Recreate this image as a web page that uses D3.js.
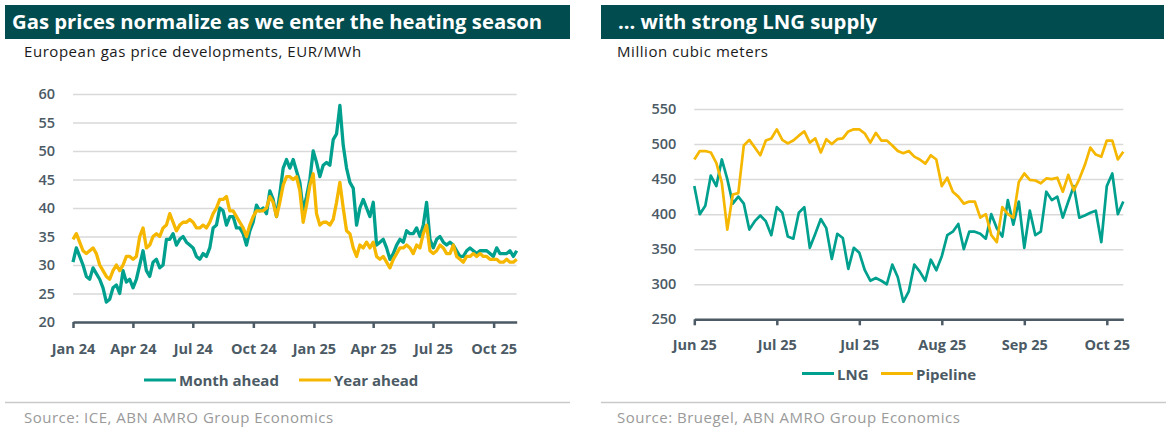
<!DOCTYPE html>
<html>
<head>
<meta charset="utf-8">
<script src="https://cdn.jsdelivr.net/npm/d3@7"></script>
<style>
  body { margin: 0; background: #fff; }
  svg text { font-family: "Open Sans", "DejaVu Sans", sans-serif; }
</style>
</head>
<body>
<svg id="chart" width="1173" height="447"></svg>
<script>
// ---- data: left panel (European gas prices, EUR/MWh), one reading every ~5 days from 1 Jan 2024
const priceStart = new Date(2024, 0, 1);
const priceStepDays = 5.068;
const monthAhead = [
  30.5, 33, 31.5, 30, 28, 27.5, 29.5, 28.5, 27.5, 26, 23.5, 24, 26, 26.5, 25, 29, 27, 27.5, 26, 27.5,
  30, 32.5, 29, 28, 30.5, 31, 29.5, 30, 34.5, 34.5, 35.5, 33.5, 34.5, 35, 34, 33.5, 33, 31.5, 31, 32,
  31.5, 33, 36.5, 37, 40, 39.5, 37, 38.5, 38.5, 36.5, 36.5, 35.5, 33.5, 36, 37.5, 40.5, 39.5, 40, 39, 43,
  41.5, 38.5, 42.5, 47, 48.5, 47, 48.5, 46.5, 44.5, 39.5, 42, 45, 50, 48, 45.5, 47.5, 48, 47.5, 52, 53,
  58, 51, 47, 44.5, 43.5, 37, 40, 41.5, 40, 38.5, 41, 33.5, 34, 34.5, 33, 31, 32, 33.5, 34.5, 34,
  36, 35.5, 35.5, 36.5, 35, 37, 41, 34.5, 33, 34.5, 35, 34, 33.5, 34, 33.5, 32.5, 31.5, 31.5, 32.5, 33,
  32.5, 32, 32.5, 32.5, 32.5, 32, 31.5, 33, 32, 32, 32, 32.5, 31.5, 32.5
];
const yearAhead = [
  34.5, 35.5, 34, 32.5, 32, 32.5, 33, 32, 30, 29, 28, 27.5, 29, 30, 29, 30, 31.5, 31.5, 31, 31.5,
  35, 36.5, 33, 33.5, 35, 35.5, 35, 36.5, 37, 39, 37.5, 36, 37, 37.5, 37.5, 38, 37.5, 36.5, 36.5, 37,
  36.5, 37.5, 39, 40, 41.5, 41.5, 42, 39.5, 39.5, 38.5, 37.5, 36.5, 35, 37, 38.5, 39.5, 39.5, 39.5, 40, 42,
  41, 38.5, 41, 44, 45.5, 45.5, 45, 45.5, 43, 37.5, 40.5, 44, 46, 39, 37, 37.5, 37.5, 37, 38, 41,
  44.5, 40, 36, 35.5, 33, 31.5, 33.5, 33, 34, 33, 34, 31.5, 31, 31.5, 30.5, 29.5, 31, 32, 33, 33,
  33.5, 33, 32, 33.5, 33, 35.5, 37, 32.5, 32, 32.5, 33.5, 33, 32, 32, 33.5, 31.5, 31, 30.5, 31.5, 31.5,
  32, 31.5, 32, 31.5, 31.5, 31, 31, 31, 30.5, 30.5, 31, 30.5, 30.5, 31
];
const priceTicks = ["2024-01-01", "2024-04-01", "2024-07-01", "2024-10-01", "2025-01-01", "2025-04-01", "2025-07-01", "2025-10-01"];
const priceTickLabels = ["Jan 24", "Apr 24", "Jul 24", "Oct 24", "Jan 25", "Apr 25", "Jul 25", "Oct 25"];
const priceYTicks = [20, 25, 30, 35, 40, 45, 50, 55, 60];

// ---- data: right panel (gas supply, million cubic meters), one reading every 2 days from 1 Jun 2025
const supplyStart = new Date(2025, 5, 1);
const supplyStepDays = 2;
const lng = [
  440, 400, 412, 455, 440, 478, 450, 415, 425, 415, 378, 390, 398, 390, 370, 410, 402, 368, 365, 402,
  410, 352, 372, 393, 380, 336, 372, 366, 322, 352, 345, 320, 305, 309, 305, 300, 328, 310, 275, 290,
  328, 318, 305, 335, 320, 340, 370, 375, 386, 350, 375, 375, 372, 365, 400, 380, 368, 420, 385, 418,
  352, 405, 370, 375, 432, 420, 425, 395, 418, 440, 395, 398, 402, 405, 360, 440, 458, 400, 418
];
const pipeline = [
  478, 490, 490, 488, 473, 445, 378, 428, 430, 498, 506, 495, 484, 505, 508, 521, 506, 501, 505, 512,
  518, 502, 508, 488, 507, 500, 507, 508, 518, 521, 521, 515, 502, 516, 505, 505, 498, 490, 487, 490,
  482, 478, 472, 484, 478, 440, 452, 432, 425, 415, 418, 418, 395, 400, 370, 360, 410, 400, 395, 446,
  458, 449, 448, 444, 451, 450, 452, 432, 456, 434, 450, 470, 495, 485, 482, 505, 505, 478, 489
];
const supplyTicks = ["2025-06-01", "2025-07-01", "2025-07-31", "2025-08-30", "2025-09-29", "2025-10-29"];
const supplyTickLabels = ["Jun 25", "Jul 25", "Jul 25", "Aug 25", "Sep 25", "Oct 25"];
const supplyYTicks = [250, 300, 350, 400, 450, 500, 550];

const TEAL = "#00a08f", YELLOW = "#f5b700", BAR = "#004c4f", AXIS = "#4b5a64";
const svg = d3.select("#chart");
const parse = d3.timeParse("%Y-%m-%d");

function seriesDates(start, step, n) {
  return d3.range(n).map(i => new Date(+start + i * step * 864e5));
}

function panel(opt) {
  const g = svg.append("g");
  // header bar
  g.append("rect").attr("x", opt.left).attr("y", 5).attr("width", opt.right - opt.left).attr("height", 34).attr("fill", BAR);
  g.append("text").attr("x", opt.titleX).attr("y", 29).attr("fill", "#fff")
    .style("font-size", "20.3px").style("font-weight", 700).text(opt.title);
  g.append("text").attr("x", opt.textX).attr("y", 57).attr("fill", "#1a1a1a")
    .style("font-size", "15px").style("letter-spacing", "0.55px").text(opt.subtitle);

  const x = d3.scaleTime().domain(opt.xDomain).range([opt.plot.x0, opt.plot.x1]);
  const y = d3.scaleLinear().domain(opt.yDomain).range([opt.plot.y0, opt.plot.y1]);

  // gridlines + y labels
  const ya = g.append("g").attr("transform", `translate(${opt.plot.x0},0)`)
    .call(d3.axisLeft(y).tickValues(opt.yTicks).tickSize(-(opt.plot.x1 - opt.plot.x0)).tickPadding(18));
  ya.select(".domain").remove();
  ya.selectAll(".tick line").attr("stroke", "#d9d9d9").attr("stroke-width", 1.5);
  ya.selectAll(".tick text").attr("fill", AXIS).style("font-size", "14.5px").style("font-weight", 600).style("font-family", "Open Sans");

  // x axis
  const xa = g.append("g").attr("transform", `translate(0,${opt.plot.y0})`)
    .call(d3.axisBottom(x).tickValues(opt.xTicks.map(parse)).tickFormat((d, i) => opt.xLabels[i]).tickSize(6).tickPadding(opt.tickPad).tickSizeOuter(0));
  xa.select(".domain").attr("stroke", AXIS).attr("stroke-width", 2.5);
  xa.selectAll(".tick line").attr("stroke", AXIS).attr("stroke-width", 2.5);
  xa.selectAll(".tick text").attr("fill", AXIS).style("font-size", "14.5px").style("font-weight", 700).style("font-family", "Open Sans");

  // lines
  const line = d3.line().x(d => x(d[0])).y(d => y(d[1]));
  opt.series.forEach(s => {
    g.append("path").datum(s.dates.map((d, i) => [d, s.values[i]]))
      .attr("fill", "none").attr("stroke", s.color).attr("stroke-width", opt.lineWidth)
      .attr("stroke-linejoin", "round").attr("d", line);
  });

  // legend
  opt.series.forEach(s => {
    g.append("line").attr("x1", s.legendX).attr("x2", s.legendX + 32)
      .attr("y1", opt.legendY).attr("y2", opt.legendY).attr("stroke", s.color).attr("stroke-width", 3);
    g.append("text").attr("x", s.legendX + 35).attr("y", opt.legendY + 6).attr("fill", AXIS)
      .style("font-size", "15px").style("font-weight", 700).text(s.name);
  });

  // footer
  g.append("line").attr("x1", opt.left).attr("x2", opt.footRight).attr("y1", 402.5).attr("y2", 402.5)
    .attr("stroke", "#c9c9c9").attr("stroke-width", 1.5);
  g.append("text").attr("x", opt.textX).attr("y", 423).attr("fill", "#9a9a9a")
    .style("font-size", "15px").style("letter-spacing", "0.5px").text(opt.source);
}

panel({
  left: 5, right: 570, footRight: 570, titleX: 12, textX: 24,
  title: "Gas prices normalize as we enter the heating season",
  subtitle: "European gas price developments, EUR/MWh",
  source: "Source: ICE, ABN AMRO Group Economics",
  plot: { x0: 73, x1: 516.7, y0: 322, y1: 94 },
  xDomain: [priceStart, new Date(+priceStart + (monthAhead.length - 1) * priceStepDays * 864e5)],
  yDomain: [20, 60], yTicks: priceYTicks,
  xTicks: priceTicks, xLabels: priceTickLabels, tickPad: 16,
  lineWidth: 3.3, legendY: 380,
  series: [
    { name: "Month ahead", color: TEAL, values: monthAhead, dates: seriesDates(priceStart, priceStepDays, monthAhead.length), legendX: 144 },
    { name: "Year ahead", color: YELLOW, values: yearAhead, dates: seriesDates(priceStart, priceStepDays, yearAhead.length), legendX: 299 }
  ]
});

panel({
  left: 601, right: 1164, footRight: 1166, titleX: 618, textX: 617,
  title: "... with strong LNG supply",
  subtitle: "Million cubic meters",
  source: "Source: Bruegel, ABN AMRO Group Economics",
  plot: { x0: 694.3, x1: 1123.3, y0: 319.3, y1: 109 },
  xDomain: [supplyStart, new Date(+supplyStart + (lng.length - 1) * supplyStepDays * 864e5)],
  yDomain: [250, 550], yTicks: supplyYTicks,
  xTicks: supplyTicks, xLabels: supplyTickLabels, tickPad: 14,
  lineWidth: 2.7, legendY: 373.5,
  series: [
    { name: "LNG", color: TEAL, values: lng, dates: seriesDates(supplyStart, supplyStepDays, lng.length), legendX: 802 },
    { name: "Pipeline", color: YELLOW, values: pipeline, dates: seriesDates(supplyStart, supplyStepDays, pipeline.length), legendX: 881 }
  ]
});
</script>
</body>
</html>
